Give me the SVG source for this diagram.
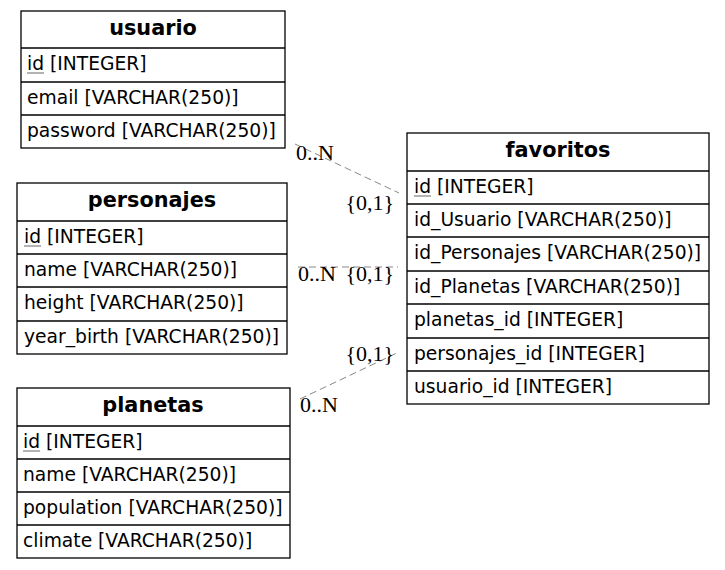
<svg xmlns="http://www.w3.org/2000/svg" width="725" height="570" viewBox="0 0 725 570">
<style>
.box{fill:#fff;stroke:#000;stroke-width:1.3}
.sep{stroke:#000;stroke-width:1.3}
.hd{font-family:"DejaVu Sans",sans-serif;font-weight:bold;font-size:20.8px;text-anchor:middle;fill:#000}
.f{font-family:"DejaVu Sans",sans-serif;font-size:18.7px;fill:#000}
.ul{stroke:#666;stroke-width:1}
.e{stroke:#888;stroke-width:1;stroke-dasharray:7,4;fill:none}
.l{font-family:"Liberation Serif","Times New Roman",serif;font-size:22px;fill:#000}
</style>
<g id="connectors">
<line class="e" x1="295" y1="144" x2="399" y2="193"/>
<line class="e" x1="298" y1="267" x2="398" y2="267"/>
<line class="e" x1="300" y1="399" x2="399" y2="352"/>
<text class="l" x="296" y="160">0..N</text>
<text class="l" x="394" y="210" text-anchor="end">{0,1}</text>
<text class="l" x="298" y="281">0..N</text>
<text class="l" x="394" y="281" text-anchor="end">{0,1}</text>
<text class="l" x="394" y="361" text-anchor="end">{0,1}</text>
<text class="l" x="300" y="412">0..N</text>
</g>
<g id="usuario">
<rect class="box" x="21" y="11" width="264" height="137"/>
<line class="sep" x1="21" y1="48" x2="285" y2="48"/>
<line class="sep" x1="21" y1="82" x2="285" y2="82"/>
<line class="sep" x1="21" y1="115" x2="285" y2="115"/>
<text class="hd" x="153" y="35">usuario</text>
<text class="f" x="27" y="70">id [INTEGER]</text>
<line class="ul" x1="27" y1="73" x2="44" y2="73"/>
<text class="f" x="27" y="104">email [VARCHAR(250)]</text>
<text class="f" x="27" y="137">password [VARCHAR(250)]</text>
</g>
<g id="personajes">
<rect class="box" x="17" y="183" width="270" height="171"/>
<line class="sep" x1="17" y1="221" x2="287" y2="221"/>
<line class="sep" x1="17" y1="254" x2="287" y2="254"/>
<line class="sep" x1="17" y1="287" x2="287" y2="287"/>
<line class="sep" x1="17" y1="321" x2="287" y2="321"/>
<text class="hd" x="152" y="207">personajes</text>
<text class="f" x="24" y="243">id [INTEGER]</text>
<line class="ul" x1="24" y1="246" x2="41" y2="246"/>
<text class="f" x="24" y="276">name [VARCHAR(250)]</text>
<text class="f" x="24" y="309">height [VARCHAR(250)]</text>
<text class="f" x="24" y="343">year_birth [VARCHAR(250)]</text>
</g>
<g id="planetas">
<rect class="box" x="17" y="388" width="273" height="170"/>
<line class="sep" x1="17" y1="426" x2="290" y2="426"/>
<line class="sep" x1="17" y1="459" x2="290" y2="459"/>
<line class="sep" x1="17" y1="492" x2="290" y2="492"/>
<line class="sep" x1="17" y1="525" x2="290" y2="525"/>
<text class="hd" x="153" y="412">planetas</text>
<text class="f" x="23" y="448">id [INTEGER]</text>
<line class="ul" x1="23" y1="451" x2="40" y2="451"/>
<text class="f" x="23" y="481">name [VARCHAR(250)]</text>
<text class="f" x="23" y="514">population [VARCHAR(250)]</text>
<text class="f" x="23" y="547">climate [VARCHAR(250)]</text>
</g>
<g id="favoritos">
<rect class="box" x="407" y="133" width="302" height="271"/>
<line class="sep" x1="407" y1="171" x2="709" y2="171"/>
<line class="sep" x1="407" y1="204" x2="709" y2="204"/>
<line class="sep" x1="407" y1="237" x2="709" y2="237"/>
<line class="sep" x1="407" y1="271" x2="709" y2="271"/>
<line class="sep" x1="407" y1="304" x2="709" y2="304"/>
<line class="sep" x1="407" y1="338" x2="709" y2="338"/>
<line class="sep" x1="407" y1="371" x2="709" y2="371"/>
<text class="hd" x="558" y="157">favoritos</text>
<text class="f" x="414" y="193">id [INTEGER]</text>
<line class="ul" x1="414" y1="196" x2="431" y2="196"/>
<text class="f" x="414" y="226">id_Usuario [VARCHAR(250)]</text>
<text class="f" x="414" y="259">id_Personajes [VARCHAR(250)]</text>
<text class="f" x="414" y="293">id_Planetas [VARCHAR(250)]</text>
<text class="f" x="414" y="326">planetas_id [INTEGER]</text>
<text class="f" x="414" y="360">personajes_id [INTEGER]</text>
<text class="f" x="414" y="393">usuario_id [INTEGER]</text>
</g>
</svg>
